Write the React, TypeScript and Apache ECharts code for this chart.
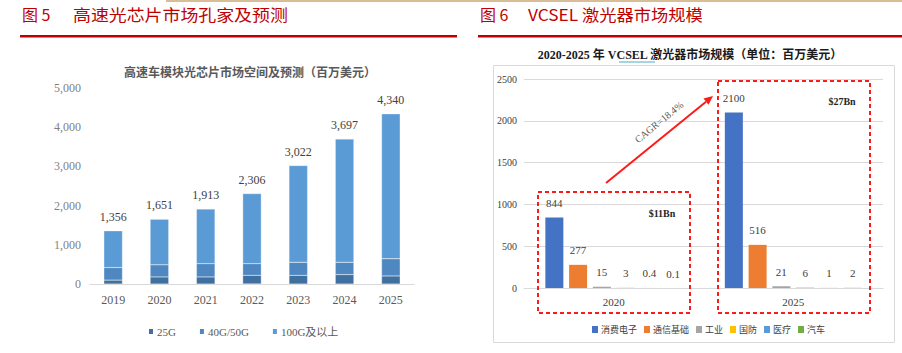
import React, { useEffect, useRef } from "react";
import * as echarts from "echarts";

// Left chart data (百万美元)
const leftYears = ["2019", "2020", "2021", "2022", "2023", "2024", "2025"];
const left25G = [100, 180, 180, 220, 220, 240, 205];
const left40G = [320, 310, 340, 300, 335, 315, 440];
const left100G = [936, 1161, 1393, 1786, 2467, 3142, 3695];
const leftTotals = [1356, 1651, 1913, 2306, 3022, 3697, 4340];
const leftSeriesNames = ["25G", "40G/50G", "100G及以上"];

// Right chart data (百万美元)
const rightYears = ["2020", "2025"];
const rightSeriesNames = ["消费电子", "通信基础", "工业", "国防", "医疗", "汽车"];
const consumer = [844, 2100];
const telecom = [277, 516];
const industrial = [15, 21];
const defense = [3, 6];
const medical = [0.4, 1];
const automotive = [0.1, 2];
const rightColors = ["#4472C4", "#ED7D31", "#A5A5A5", "#FFC000", "#5B9BD5", "#70AD47"];

const SERIF = "'Liberation Serif', 'Noto Sans CJK SC', serif";
const SANS = "'Noto Sans CJK SC', 'Noto Sans', sans-serif";

export default function App() {
  const ref = useRef<HTMLDivElement>(null);

  useEffect(() => {
    if (!ref.current) return;
    const chart = echarts.init(ref.current, undefined, { renderer: "svg" });
    const rightData = [consumer, telecom, industrial, defense, medical, automotive];

    const txt = (text: string, x: number, y: number, opts: any = {}) => ({
      type: "text",
      x,
      y,
      rotation: opts.rotation || 0,
      scaleX: opts.scaleX || 1,
      z: 100,
      style: {
        text,
        fill: opts.fill || "#404040",
        fontSize: opts.fontSize || 12,
        fontFamily: opts.fontFamily || SERIF,
        fontWeight: opts.fontWeight || "normal",
        textAlign: opts.align || "left",
        align: opts.align || "left",
        textVerticalAlign: "middle",
        verticalAlign: "middle",
      },
    });

    const dashedRect = (x: number, y: number, w: number, h: number) => ({
      type: "rect",
      shape: { x, y, width: w, height: h },
      z: 90,
      style: { fill: "none", stroke: "#ff1a1a", lineWidth: 2, lineDash: [4, 3] },
    });

    // arrow geometry
    const ax0 = 606, ay0 = 183, ax1 = 713, ay1 = 96;
    const dx = ax1 - ax0, dy = ay1 - ay0;
    const len = Math.sqrt(dx * dx + dy * dy);
    const ux = dx / len, uy = dy / len;
    const px = -uy, py = ux;
    const bx = ax1 - 9 * ux, by = ay1 - 9 * uy;

    const option: any = {
      animation: false,
      backgroundColor: "#ffffff",
      grid: [
        { left: 90, right: 488, top: 88, bottom: 69 },
        { left: 524, right: 19, top: 79, bottom: 65 },
      ],
      xAxis: [
        {
          gridIndex: 0,
          type: "category",
          data: leftYears,
          axisLine: { lineStyle: { color: "#d9d9d9", width: 1 } },
          axisTick: { show: false },
          axisLabel: { color: "#595959", fontSize: 12, fontFamily: SERIF, margin: 10 },
        },
        {
          gridIndex: 1,
          type: "category",
          data: rightYears,
          axisLine: { lineStyle: { color: "#d9d9d9", width: 1 } },
          axisTick: { show: false },
          axisLabel: { color: "#404040", fontSize: 11, fontFamily: SERIF, margin: 8 },
        },
      ],
      yAxis: [
        {
          gridIndex: 0,
          type: "value",
          min: 0,
          max: 5000,
          interval: 1000,
          axisLine: { show: false },
          axisTick: { show: false },
          splitLine: { show: false },
          axisLabel: {
            color: "#7f7f7f",
            fontSize: 12,
            fontFamily: SERIF,
            margin: 9,
            formatter: (v: number) => v.toLocaleString("en-US"),
          },
        },
        {
          gridIndex: 1,
          type: "value",
          min: 0,
          max: 2500,
          interval: 500,
          axisLine: { show: false },
          axisTick: { show: false },
          splitLine: { lineStyle: { color: "#d9d9d9", width: 1 } },
          axisLabel: {
            color: "#404040",
            fontSize: 10,
            fontFamily: SERIF,
            margin: 7,
            formatter: (v: number) => String(v),
          },
        },
      ],
      legend: [
        {
          data: leftSeriesNames,
          left: 142,
          top: 321,
          itemWidth: 6,
          itemHeight: 7,
          itemGap: 22,
          icon: "rect",
          textStyle: { color: "#595959", fontSize: 11, fontFamily: SERIF, padding: [0, 0, 0, -2] },
        },
        {
          data: rightSeriesNames,
          left: 587,
          top: 320,
          itemWidth: 6,
          itemHeight: 7,
          itemGap: 7,
          icon: "rect",
          textStyle: { color: "#404040", fontSize: 9, fontFamily: SERIF, padding: [0, 0, 0, -2] },
        },
      ],
      series: [
        {
          name: leftSeriesNames[0],
          type: "bar",
          stack: "left",
          xAxisIndex: 0,
          yAxisIndex: 0,
          barWidth: "40%",
          data: left25G,
          itemStyle: { color: "#40709f", borderColor: "#ffffff", borderWidth: 0.3 },
        },
        {
          name: leftSeriesNames[1],
          type: "bar",
          stack: "left",
          xAxisIndex: 0,
          yAxisIndex: 0,
          data: left40G,
          itemStyle: { color: "#4f88c1", borderColor: "#ffffff", borderWidth: 0.3 },
        },
        {
          name: leftSeriesNames[2],
          type: "bar",
          stack: "left",
          xAxisIndex: 0,
          yAxisIndex: 0,
          data: left100G,
          itemStyle: { color: "#5b9bd5", borderColor: "#ffffff", borderWidth: 0.3 },
          label: {
            show: true,
            position: "top",
            distance: 8,
            color: "#404040",
            fontSize: 12,
            fontFamily: SERIF,
            formatter: (p: any) => leftTotals[p.dataIndex].toLocaleString("en-US"),
          },
        },
        ...rightSeriesNames.map((name, i) => ({
          name,
          type: "bar",
          xAxisIndex: 1,
          yAxisIndex: 1,
          barWidth: 18,
          barGap: "32%",
          data: rightData[i],
          itemStyle: { color: rightColors[i] },
          label: {
            show: true,
            position: "top",
            distance: 9,
            color: "#404040",
            fontSize: 11,
            fontFamily: SERIF,
            formatter: "{c}",
          },
        })),
      ],
      graphic: [
        // top tan line
        { type: "rect", shape: { x: 166, y: 0, width: 736, height: 2 }, style: { fill: "#d9bd96" } },
        // header red lines
        { type: "rect", shape: { x: 20, y: 35, width: 437, height: 2.5 }, style: { fill: "#c00000" } },
        { type: "rect", shape: { x: 478, y: 35, width: 424, height: 2.5 }, style: { fill: "#c00000" } },
        txt("图 5", 22, 14, { fill: "#c00000", fontSize: 16, fontFamily: SANS }),
        txt("高速光芯片市场孔家及预测", 73, 14, { fill: "#c00000", fontSize: 16, fontFamily: SANS, scaleX: 1.12 }),
        txt("图 6", 480, 14, { fill: "#c00000", fontSize: 16, fontFamily: SANS }),
        txt("VCSEL 激光器市场规模", 528, 14, { fill: "#c00000", fontSize: 16, fontFamily: SANS, scaleX: 1.08 }),
        // left chart title
        txt("高速车模块光芯片市场空间及预测（百万美元）", 250, 73, {
          align: "center",
          fill: "#595959",
          fontSize: 12,
          fontWeight: "bold",
        }),
        // right chart border
        {
          type: "rect",
          shape: { x: 493.5, y: 65.5, width: 401, height: 277 },
          z: -1,
          style: { fill: "#ffffff", stroke: "#d9d9d9", lineWidth: 1 },
        },
        txt("2020-2025 年 VCSEL 激光器市场规模（单位：百万美元）", 690, 55, {
          align: "center",
          fill: "#1a1a1a",
          fontSize: 12,
          fontWeight: "bold",
        }),
        { type: "line", shape: { x1: 619, y1: 62, x2: 655, y2: 62 }, style: { stroke: "#4bacc6", lineWidth: 1 } },
        dashedRect(538, 192, 152, 121),
        dashedRect(718, 81, 152, 232),
        txt("$11Bn", 662, 213, { align: "center", fill: "#262626", fontSize: 10, fontWeight: "bold" }),
        txt("$27Bn", 842, 101, { align: "center", fill: "#262626", fontSize: 10, fontWeight: "bold" }),
        {
          type: "line",
          z: 95,
          shape: { x1: ax0, y1: ay0, x2: bx, y2: by },
          style: { stroke: "#ff1a1a", lineWidth: 2 },
        },
        {
          type: "polygon",
          z: 95,
          shape: {
            points: [
              [ax1, ay1],
              [bx + 4 * px, by + 4 * py],
              [bx - 4 * px, by - 4 * py],
            ],
          },
          style: { fill: "#ff1a1a" },
        },
        txt("CAGR=18.4%", 659, 122, {
          align: "center",
          fill: "#595959",
          fontSize: 10,
          rotation: Math.atan2(-dy, dx),
        }),
      ],
    };

    chart.setOption(option);
    return () => chart.dispose();
  }, []);

  return (
    <div
      ref={ref}
      style={{ position: "absolute", left: 0, top: 0, width: 902, height: 353, background: "#fff" }}
    />
  );
}
